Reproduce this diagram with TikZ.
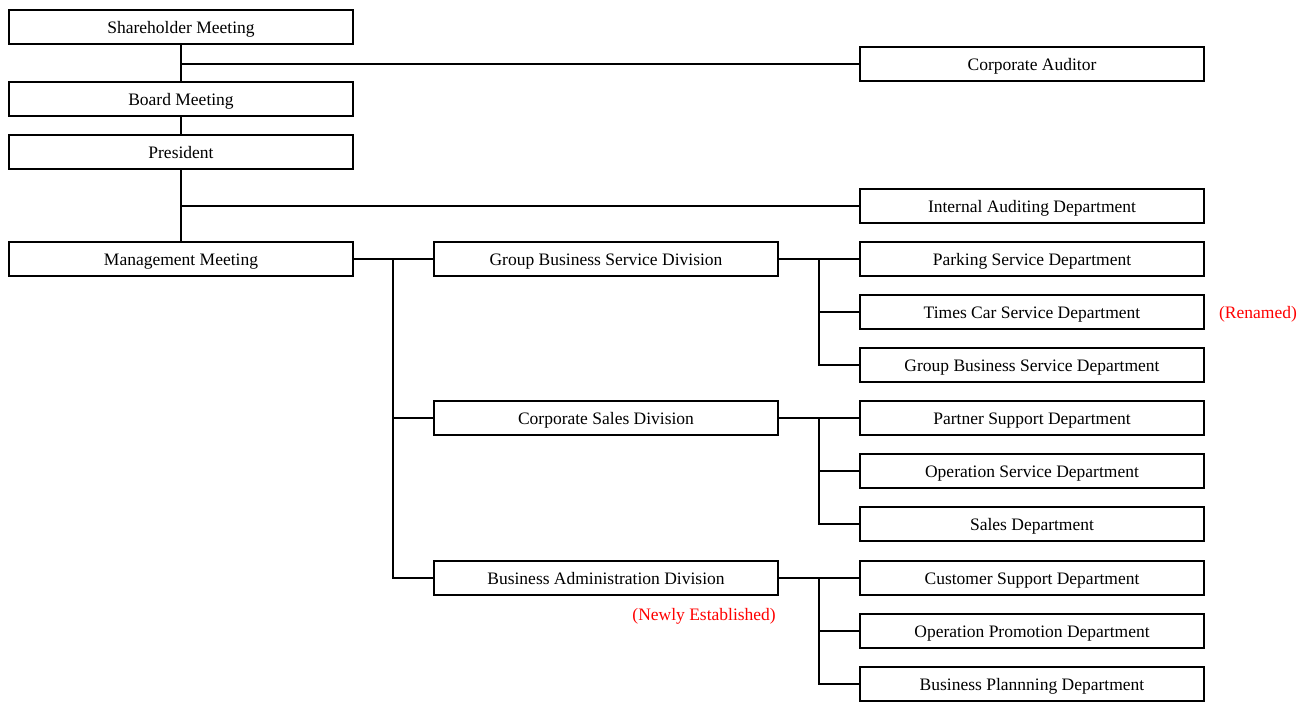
\documentclass[tikz,border=0pt]{standalone}
\usepackage{fontspec}
\setmainfont{Liberation Serif}
\begin{document}
\begin{tikzpicture}[x=1pt,y=-1pt,
  box/.style={draw, line width=2pt, minimum width=344pt, minimum height=34pt, inner sep=0pt, text height=13.4pt, text depth=0pt, font=\fontsize{17.5}{20}\selectfont},
  conn/.style={line width=2pt},
  note/.style={text=red, inner sep=0pt, text height=13.4pt, text depth=0pt, font=\fontsize{17.5}{20}\selectfont}]
\useasboundingbox (0,0) rectangle (1307,702);
\node[box] (sh) at (181,27) {Shareholder Meeting};
\node[box] (ca) at (1032,64) {Corporate Auditor};
\node[box] (bm) at (181,99) {Board Meeting};
\node[box] (pr) at (181,152) {President};
\node[box] (ia) at (1032,206) {Internal Auditing Department};
\node[box] (mm) at (181,259) {Management Meeting};
\node[box] (gbs) at (606,259) {Group Business Service Division};
\node[box] (ps) at (1032,259) {Parking Service Department};
\node[box] (tc) at (1032,312) {Times Car Service Department};
\node[box] (gbd) at (1032,365) {Group Business Service Department};
\node[box] (cs) at (606,418) {Corporate Sales Division};
\node[box] (psd) at (1032,418) {Partner Support Department};
\node[box] (os) at (1032,471) {Operation Service Department};
\node[box] (sd) at (1032,524) {Sales Department};
\node[box] (ba) at (606,578) {Business Administration Division};
\node[box] (cu) at (1032,578) {Customer Support Department};
\node[box] (op) at (1032,631) {Operation Promotion Department};
\node[box] (bp) at (1032,684) {Business Plannning Department};
\node[note] (rn) at (1258,312) {(Renamed)};
\node[note, anchor=east] (ne) at (776,614) {(Newly Established)};
\coordinate (j1) at (393,259);
\coordinate (j2) at (819,259);
\coordinate (j3) at (819,418);
\coordinate (j4) at (819,578);
\draw[conn] (sh) -- (bm);
\draw[conn] (bm) -- (pr);
\draw[conn] (ca.west) -- (ca.west -| sh);
\draw[conn] (pr) -- (mm);
\draw[conn] (ia.west) -- (ia.west -| pr);
\draw[conn] (mm) -- (gbs);
\draw[conn] (j1) |- (ba.west);
\draw[conn] (j1 |- cs) -- (cs.west);
\draw[conn] (gbs) -- (ps);
\draw[conn] (j2) |- (gbd.west);
\draw[conn] (j2 |- tc) -- (tc.west);
\draw[conn] (cs) -- (psd);
\draw[conn] (j3) |- (sd.west);
\draw[conn] (j3 |- os) -- (os.west);
\draw[conn] (ba) -- (cu);
\draw[conn] (j4) |- (bp.west);
\draw[conn] (j4 |- op) -- (op.west);
\end{tikzpicture}
\end{document}
